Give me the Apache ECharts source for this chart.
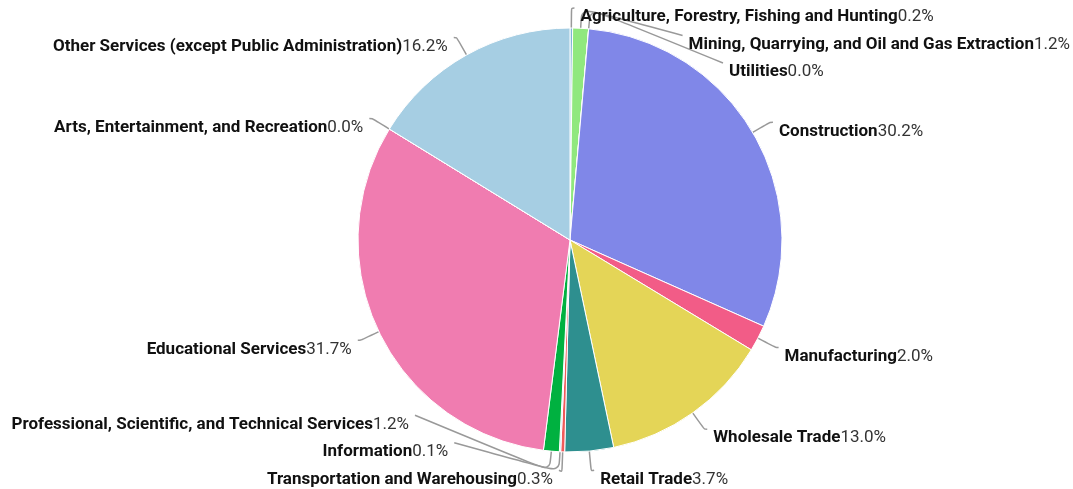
<!DOCTYPE html>
<html>
<head>
<meta charset="utf-8">
<script src="https://cdn.jsdelivr.net/npm/echarts@6/dist/echarts.min.js"></script>
<style>
  html, body { margin: 0; padding: 0; background: #fff; }
  #chart { width: 1073px; height: 489px; }
</style>
</head>
<body>
<div id="chart"></div>
<script>
const industries = [
  'Agriculture, Forestry, Fishing and Hunting',
  'Mining, Quarrying, and Oil and Gas Extraction',
  'Utilities',
  'Construction',
  'Manufacturing',
  'Wholesale Trade',
  'Retail Trade',
  'Transportation and Warehousing',
  'Information',
  'Professional, Scientific, and Technical Services',
  'Educational Services',
  'Arts, Entertainment, and Recreation',
  'Other Services (except Public Administration)'
];
const shares = [0.2, 1.2, 0.0, 30.2, 2.0, 13.0, 3.7, 0.3, 0.1, 1.2, 31.7, 0.0, 16.2];
const sliceColors = [
  '#7fb3d5', '#90e87e', '#c9c9c9', '#8087e8', '#f25c87', '#e4d557', '#2e8f8f',
  '#f05a5a', '#9ad0f5', '#00b140', '#f07cb0', '#d9d9d9', '#a6cee3'
];

const CX = 570, CY = 240, RADIUS = 212;
const H = 489;
const GAP = 27.5;      // vertical room per label when they collide
const DROP = 9;        // text sits a bit below the end of its leader line
const DIST = 6;        // space between leader line and text

const chart = echarts.init(document.getElementById('chart'));

// natural label geometry from the first pass, placement for the second
let natural = {};
let placed = null;

function labelLayout(p) {
  natural[p.dataIndex] = { rect: p.labelRect, pts: p.labelLinePoints };
  return placed ? (placed[p.dataIndex] || {}) : {};
}

// old-style pie spreading: push overlapping labels along each side,
// keep them inside the canvas, then slide them onto the leader circle
function spreadLabels() {
  const out = {};
  [1, -1].forEach(dir => {
    const items = Object.keys(natural).map(Number)
      .filter(i => {
        const pts = natural[i].pts;
        if (!pts) return false;
        return dir > 0 ? pts[2][0] >= CX : pts[2][0] < CX;
      })
      .sort((a, b) => natural[a].pts[2][1] - natural[b].pts[2][1]);
    const c = items.map(i => natural[i].pts[2][1] + DROP);
    for (let k = 0; k < c.length; k++) {
      c[k] = Math.max(c[k], k ? c[k - 1] + GAP : GAP / 2);
    }
    const n = c.length;
    if (n) c[n - 1] = Math.min(c[n - 1], H + 4 - GAP / 2);
    for (let k = n - 2; k >= 0; k--) c[k] = Math.min(c[k], c[k + 1] - GAP);

    items.forEach((i, k) => {
      const [p1, p2, p3] = natural[i].pts;
      const lineY = c[k] - DROP;
      let x3 = p3[0];
      if (Math.abs(lineY - p3[1]) > 0.5) {
        const rl = Math.hypot(p2[0] - CX, p2[1] - CY);
        const len2 = Math.abs(p3[0] - p2[0]);
        const dy = Math.abs(lineY - CY);
        if (Math.abs(c[k] - CY) < rl) x3 = CX + dir * (Math.sqrt(rl * rl - dy * dy) + len2);
      }
      out[i] = {
        x: x3 + dir * DIST,
        y: c[k],
        labelLinePoints: [p1.slice(), p2.slice(), [x3, lineY]]
      };
    });
  });
  return out;
}

function render() {
  chart.setOption({
    animation: false,
    series: [{
      type: 'pie',
      center: [CX, CY],
      radius: RADIUS,
      startAngle: 90,
      clockwise: true,
      avoidLabelOverlap: false,
      minShowLabelAngle: 0,
      itemStyle: { borderColor: '#fff', borderWidth: 1 },
      label: {
        fontFamily: 'Roboto',
        overflow: 'none',
        distanceToLabelLine: DIST,
        formatter: p => '{b|' + p.name + '}{v|' + p.value.toFixed(1) + '%}',
        rich: {
          b: { fontFamily: 'Roboto', fontSize: 17, lineHeight: 20, fontWeight: 'bold', color: '#111' },
          v: { fontFamily: 'Roboto', fontSize: 17, lineHeight: 20, color: '#333' }
        }
      },
      labelLine: {
        length: 20,
        length2: 3,
        smooth: true,
        lineStyle: { color: '#999', width: 1.5 }
      },
      labelLayout: labelLayout,
      data: industries.map((name, i) => ({
        name,
        value: shares[i],
        itemStyle: { color: sliceColors[i] }
      }))
    }]
  });
}

render();
placed = spreadLabels();
render();
</script>
</body>
</html>
